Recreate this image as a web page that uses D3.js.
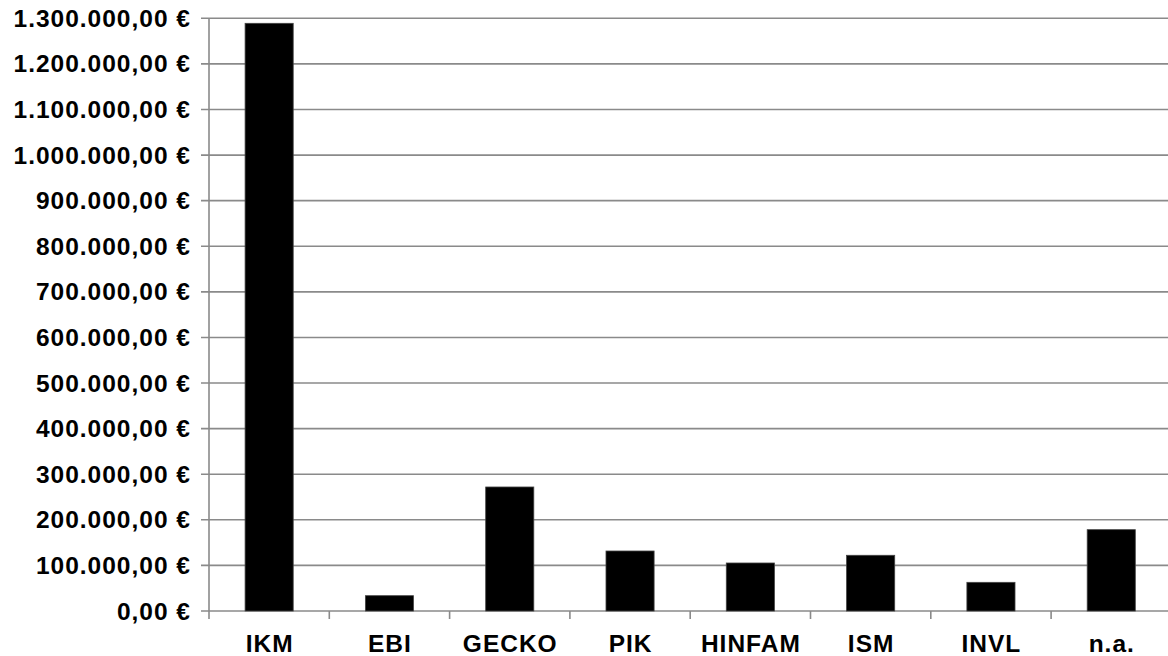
<!DOCTYPE html>
<html>
<head>
<meta charset="utf-8">
<script src="https://cdn.jsdelivr.net/npm/d3@7"></script>
<style>
  html, body { margin: 0; padding: 0; background: #fff; }
  svg { display: block; }
  text { font-family: "Liberation Sans", Arial, sans-serif; font-weight: bold; fill: #000; letter-spacing: 1px; }
</style>
</head>
<body>
<svg id="chart" width="1168" height="656"></svg>
<script>
// Budget per unit (EUR)
const categories = ["IKM", "EBI", "GECKO", "PIK", "HINFAM", "ISM", "INVL", "n.a."];
const amounts = [1289000, 33600, 272000, 131600, 105300, 122200, 62900, 178400];
const yTicks = [0, 100000, 200000, 300000, 400000, 500000, 600000, 700000,
                800000, 900000, 1000000, 1100000, 1200000, 1300000];

const svg = d3.select("#chart");
const plotLeft = 209, plotRight = 1171.4, plotTop = 18.3, plotBottom = 611;

const de = d3.formatLocale({
  decimal: ",", thousands: ".", grouping: [3], currency: ["", " €"]
});
const fmt = de.format("$,.2f");

const x = d3.scaleBand()
  .domain(categories)
  .range([plotLeft, plotRight])
  .paddingInner(0.6)
  .paddingOuter(0.3);

const y = d3.scaleLinear()
  .domain([0, 1300000])
  .range([plotBottom, plotTop]);

const gridColor = "#8a8a8a";

// horizontal gridlines (with the short tick stub left of the axis)
svg.append("g")
  .selectAll("line")
  .data(yTicks)
  .join("line")
  .attr("x1", plotLeft - 8)
  .attr("x2", plotRight)
  .attr("y1", d => y(d))
  .attr("y2", d => y(d))
  .attr("stroke", gridColor)
  .attr("stroke-width", 1.6);

// y axis line
svg.append("line")
  .attr("x1", plotLeft).attr("x2", plotLeft)
  .attr("y1", plotTop).attr("y2", plotBottom + 8)
  .attr("stroke", gridColor).attr("stroke-width", 1.6);

// category separators below baseline
const step = x.step();
const boundaries = categories.map(c => x(c) - (step - x.bandwidth()) / 2).slice(1);
svg.append("g")
  .selectAll("line")
  .data(boundaries)
  .join("line")
  .attr("x1", d => d).attr("x2", d => d)
  .attr("y1", plotBottom).attr("y2", plotBottom + 8)
  .attr("stroke", gridColor).attr("stroke-width", 1.6);

// bars
svg.append("g")
  .selectAll("rect")
  .data(categories)
  .join("rect")
  .attr("x", d => x(d))
  .attr("width", x.bandwidth())
  .attr("y", (d, i) => y(amounts[i]))
  .attr("height", (d, i) => y(0) - y(amounts[i]))
  .attr("fill", "#000")
  .attr("stroke", "#444")
  .attr("stroke-width", 0.8);

// y tick labels
svg.append("g")
  .selectAll("text")
  .data(yTicks)
  .join("text")
  .attr("x", 191)
  .attr("y", d => y(d))
  .attr("dy", "0.35em")
  .attr("text-anchor", "end")
  .style("font-size", "24.5px")
  .text(d => fmt(d));

// category labels
svg.append("g")
  .selectAll("text")
  .data(categories)
  .join("text")
  .attr("x", d => x(d) + x.bandwidth() / 2 + 0.5)
  .attr("y", 652)
  .attr("text-anchor", "middle")
  .style("font-size", "24.5px")
  .text(d => d);
</script>
</body>
</html>
